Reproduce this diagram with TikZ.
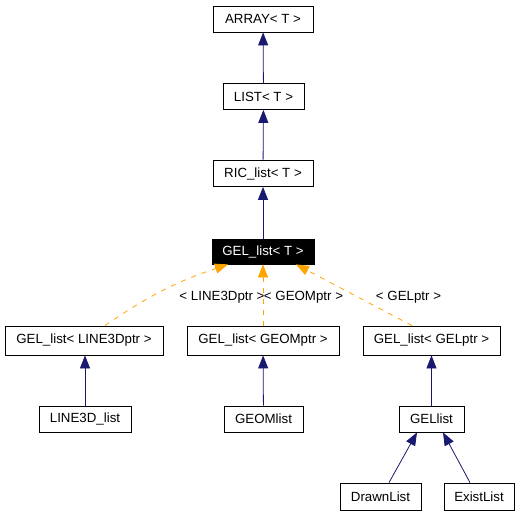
\documentclass[tikz,border=0pt]{standalone}
\usepackage{fontspec}
\setmainfont{Liberation Sans}
\usetikzlibrary{arrows.meta}
\definecolor{navyedge}{RGB}{25,25,112}
\definecolor{tplorange}{RGB}{255,165,0}
\begin{document}
\begin{tikzpicture}[x=1pt, y=-1pt,
	cls/.style={draw, line width=0.8pt, inner sep=0pt, minimum height=26, font=\fontsize{13.3}{15}\selectfont},
	inh/.style={navyedge, line width=0.8pt, -{Triangle[length=13pt,width=10pt]}},
	tpl/.style={tplorange, line width=0.8pt, dash pattern=on 5pt off 6pt, -{Triangle[length=13pt,width=10pt]}},
	lbl/.style={font=\fontsize{13.3}{15}\selectfont, inner sep=0pt}]
	\useasboundingbox (0,0) rectangle (521,515);
	%base chain
		\node (array) at (263,19) [cls, minimum width=100]{ARRAY< T >};
		\node (list) at (263.5,96.5) [cls, minimum width=81]{LIST< T >};
		\node (ric) at (263,173.5) [cls, minimum width=100]{RIC\_list< T >};
		\node (gelt) at (263,251.5) [cls, fill=black, text=white, minimum width=102, minimum height=25]{GEL\_list< T >};
		
		\draw[inh] (list) -- (array);
		\draw[inh] (ric) -- (list);
		\draw[inh] (gelt) -- (ric);
		
	%template instances
		\node (l3ptr) at (84,340.5) [cls, minimum width=158, minimum height=29]{GEL\_list< LINE3Dptr >};
		\node (geomptr) at (263,340.5) [cls, minimum width=152, minimum height=29]{GEL\_list< GEOMptr >};
		\node (gelptr) at (431.5,340.5) [cls, minimum width=137, minimum height=29]{GEL\_list< GELptr >};
		
		\draw[tpl] ([xshift=21]l3ptr.north) to[bend left=8] ([xshift=-35]gelt.south);
		\draw[tpl] (geomptr) -- (gelt);
		\draw[tpl] ([xshift=-19.5]gelptr.north) -- ([xshift=33]gelt.south);
		
		\node (l3lbl) at (222,297) [lbl]{< LINE3Dptr >};
		\node (geomlbl) at (303.5,297) [lbl]{< GEOMptr >};
		\node (gellbl) at (408.5,297) [lbl]{< GELptr >};
		
	%derived classes
		\node (l3list) at (85,419) [cls, minimum width=92]{LINE3D\_list};
		\node (geomlist) at (263.5,419) [cls, minimum width=79]{GEOMlist};
		\node (gellist) at (431.5,419) [cls, minimum width=65]{GELlist};
		\node (drawn) at (380.5,496.5) [cls, minimum width=81, minimum height=27]{DrawnList};
		\node (exist) at (479,496.5) [cls, minimum width=70, minimum height=27]{ExistList};
		
		\draw[inh] (l3list) -- (l3list |- l3ptr.south);
		\draw[inh] (geomlist) -- (geomptr);
		\draw[inh] (gellist) -- (gelptr);
		\draw[inh] ([xshift=8.5]drawn.north) -- ([xshift=-14.5]gellist.south);
		\draw[inh] ([xshift=-9]exist.north) -- ([xshift=11.5]gellist.south);
	\end{tikzpicture}
\end{document}
